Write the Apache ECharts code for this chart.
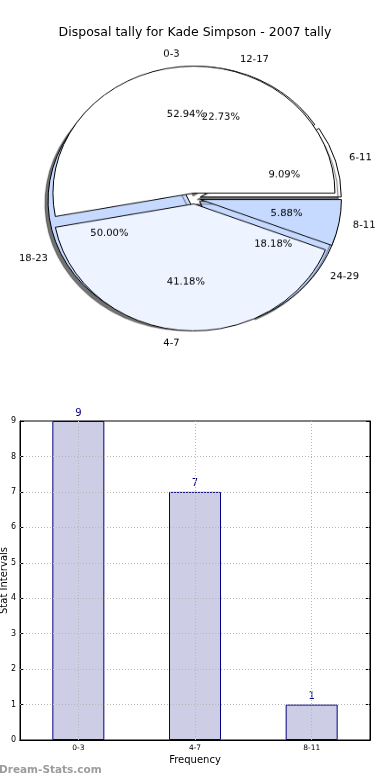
<!DOCTYPE html>
<html>
<head>
<meta charset="utf-8">
<script src="https://cdn.jsdelivr.net/npm/echarts@6/dist/echarts.min.js"></script>
<style>
html,body{margin:0;padding:0;background:#fff;}
#wrap{position:relative;width:390px;height:780px;}
#main{position:absolute;left:0;top:0;width:390px;height:780px;}
#pie{position:absolute;left:0;top:0;width:390px;height:400px;
     transform:scaleY(0.9007);transform-origin:194.5px 198.5px;}
</style>
</head>
<body>
<div id="wrap">
<div id="main"></div>
<div id="pie"></div>
</div>
<script>
// ---- data ----
const titleText = 'Disposal tally for Kade Simpson - 2007 tally';
const pieCategoriesA = ['0-3', '4-7', '8-11'];
const pieValuesA = [9, 7, 1];
const pieCategoriesB = ['6-11', '12-17', '18-23', '24-29'];
const pieValuesB = [2, 5, 11, 4];
const barCategories = ['0-3', '4-7', '8-11'];
const barValues = [9, 7, 1];
const yTickValues = [0, 1, 2, 3, 4, 5, 6, 7, 8, 9];

// ---- styles ----
const pieColorsA = ['#ffffff', '#edf3ff', '#c6d9ff'];
const pieColorsB = ['#ffffff', '#ffffff', '#c6d9ff', '#c6d9ff'];
const FONT = 'DejaVu Sans';
const PIE_CENTER = [194.5, 198.5];
const PIE_R = 141;
const OFFSET = 6;

function pct(values) {
  const s = values.reduce((a, b) => a + b, 0);
  return values.map(v => (v / s * 100).toFixed(2) + '%');
}

function pieSeries(cats, vals, colors, withShadow) {
  return {
    type: 'pie',
    center: PIE_CENTER,
    radius: PIE_R,
    startAngle: 0,
    clockwise: false,
    selectedMode: 'multiple',
    selectedOffset: OFFSET,
    avoidLabelOverlap: false,
    animation: false,
    silent: true,
    emphasis: { disabled: true },
    labelLayout: { hideOverlap: false },
    itemStyle: Object.assign({ borderColor: '#000', borderWidth: 1 },
      withShadow ? { shadowColor: 'rgba(0,0,0,0.55)', shadowOffsetX: -3, shadowOffsetY: 3, shadowBlur: 1 } : {}),
    select: { itemStyle: { borderColor: '#000', borderWidth: 1 } },
    label: {
      show: true, position: 'outside', color: '#000', fontSize: 10, fontFamily: FONT,
      distanceToLabelLine: 0
    },
    labelLine: { show: false, length: PIE_R * 0.1, length2: 0 },
    data: cats.map((c, i) => ({ name: c, value: vals[i], selected: true, itemStyle: { color: colors[i] } }))
  };
}

function pctSeries(cats, vals) {
  const labels = pct(vals);
  return {
    type: 'pie',
    center: PIE_CENTER,
    radius: PIE_R * 1.2,
    startAngle: 0,
    clockwise: false,
    selectedMode: 'multiple',
    selectedOffset: OFFSET,
    avoidLabelOverlap: false,
    animation: false,
    silent: true,
    emphasis: { disabled: true },
    labelLayout: { hideOverlap: false },
    itemStyle: { color: 'rgba(0,0,0,0)', borderWidth: 0 },
    select: { itemStyle: { color: 'rgba(0,0,0,0)', borderWidth: 0 } },
    label: {
      show: true, position: 'inside', color: '#000', fontSize: 10, fontFamily: FONT,
      formatter: p => labels[p.dataIndex]
    },
    labelLine: { show: false },
    data: cats.map((c, i) => ({ name: c, value: vals[i], selected: true }))
  };
}

const dotted = { color: '#b8b8b8', width: 1, type: [1, 2] };

const pieChart = echarts.init(document.getElementById('pie'), null, { renderer: 'canvas' });
pieChart.setOption({
  backgroundColor: 'transparent',
  animation: false,
  series: [
    pieSeries(pieCategoriesB, pieValuesB, pieColorsB, true),
    pieSeries(pieCategoriesA, pieValuesA, pieColorsA, false),
    pctSeries(pieCategoriesB, pieValuesB),
    pctSeries(pieCategoriesA, pieValuesA)
  ]
});

const chart = echarts.init(document.getElementById('main'), null, { renderer: 'canvas' });
chart.setOption({
  backgroundColor: '#fff',
  animation: false,
  title: {
    text: titleText, left: 'center', top: 21,
    textStyle: { fontSize: 12.5, fontWeight: 'normal', color: '#000', fontFamily: FONT }
  },
  graphic: [{
    type: 'text', left: -1, top: 765,
    style: { text: 'Dream-Stats.com', font: 'bold 10.5px "DejaVu Sans"', fill: '#9c9c9c' }
  }],
  grid: {
    left: 20, right: 20, top: 421, bottom: 40,
    outerBoundsMode: 'none', containLabel: false,
    show: true, borderColor: '#000', borderWidth: 1, backgroundColor: 'transparent'
  },
  xAxis: [{
    type: 'category', data: barCategories, position: 'bottom',
    name: 'Frequency', nameLocation: 'middle', nameGap: 15, nameMoveOverlap: false,
    nameTextStyle: { fontSize: 10, fontFamily: FONT, color: '#000' },
    axisLine: { lineStyle: { color: '#000' } },
    axisTick: { alignWithLabel: true, inside: true, length: 4, lineStyle: { color: '#000' } },
    axisLabel: { fontSize: 7.5, fontFamily: FONT, color: '#000', margin: 4 },
    splitLine: { show: false }
  }, {
    type: 'category', data: barCategories, position: 'top',
    axisLine: { lineStyle: { color: '#000' } },
    axisTick: { alignWithLabel: true, inside: true, length: 4, lineStyle: { color: '#000' } },
    axisLabel: { show: false }, splitLine: { show: false }
  }],
  yAxis: [{
    type: 'value', min: 0, max: 9, interval: 1,
    name: 'Stat Intervals', nameLocation: 'middle', nameGap: 11, nameMoveOverlap: false,
    nameTextStyle: { fontSize: 10, fontFamily: FONT, color: '#000' },
    axisLine: { show: true, lineStyle: { color: '#000' } },
    axisTick: { show: true, inside: true, length: 4, lineStyle: { color: '#000' } },
    axisLabel: { fontSize: 8, fontFamily: FONT, color: '#000', margin: 4 },
    splitLine: { show: false }
  }, {
    type: 'value', min: 0, max: 9, interval: 1, position: 'right',
    axisLine: { show: true, lineStyle: { color: '#000' } },
    axisTick: { show: true, inside: true, length: 4, lineStyle: { color: '#000' } },
    axisLabel: { show: false }, splitLine: { show: false }
  }],
  series: [
    {
      type: 'bar', data: barValues, xAxisIndex: 0, yAxisIndex: 0,
      barWidth: 52,
      itemStyle: { color: '#cdcde6', borderColor: '#000080', borderWidth: 1 },
      label: { show: true, position: 'top', color: '#000080', fontSize: 10, fontFamily: FONT, distance: 3 },
      emphasis: { disabled: true },
      markLine: {
        silent: true, symbol: 'none', label: { show: false },
        lineStyle: dotted, animation: false,
        data: barCategories.map(c => ({ xAxis: c }))
          .concat(yTickValues.slice(1, -1).map(v => ({ yAxis: v })))
      }
    }
  ]
});
</script>
</body>
</html>
